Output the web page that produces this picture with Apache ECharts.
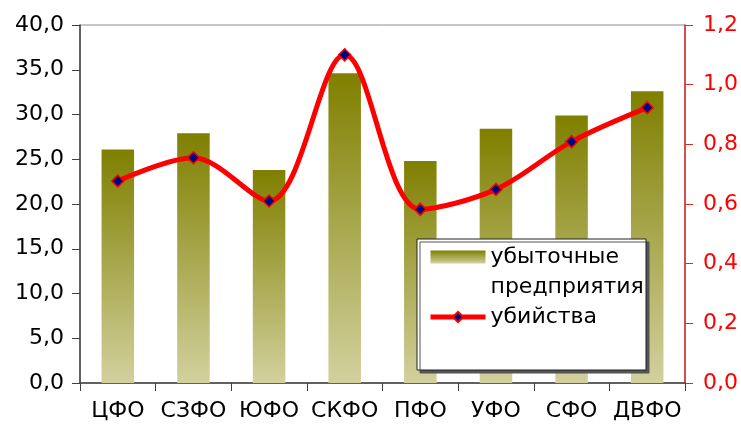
<!DOCTYPE html>
<html>
<head>
<meta charset="utf-8">
<script src="https://cdn.jsdelivr.net/npm/echarts@6/dist/echarts.min.js"></script>
<style>
  html, body { margin: 0; padding: 0; background: #fff; }
  #chart { width: 741px; height: 428px; }
</style>
</head>
<body>
<div id="chart"></div>
<script>
// федеральные округа
var categories = ['ЦФО', 'СЗФО', 'ЮФО', 'СКФО', 'ПФО', 'УФО', 'СФО', 'ДВФО'];
// левая ось
var lossValues = [26.1, 27.9, 23.8, 34.6, 24.8, 28.4, 29.9, 32.6];
// правая ось
var murderValues = [0.677, 0.755, 0.61, 1.10, 0.582, 0.649, 0.809, 0.923];

var barName = 'убыточные предприятия';
var lineName = 'убийства';
var font = 'DejaVu Sans';

function comma(v) {
  return v.toFixed(1).replace('.', ',');
}

var myChart = echarts.init(document.getElementById('chart'));

var option = {
  animation: false,
  backgroundColor: '#fff',
  textStyle: { fontFamily: font },
  grid: {
    left: 80,
    right: 55,
    top: 25,
    bottom: 45,
    show: true,
    borderColor: '#8c8c8c',
    borderWidth: 1,
    backgroundColor: 'transparent'
  },
  graphic: [
    {
      type: 'rect',
      z: 5,
      shape: { x: 417, y: 239, width: 229, height: 131 },
      style: {
        fill: '#fff',
        stroke: '#222',
        lineWidth: 1,
        shadowColor: '#555',
        shadowOffsetX: 3,
        shadowOffsetY: 3,
        shadowBlur: 0
      }
    }
  ],
  legend: {
    z: 10,
    orient: 'vertical',
    left: 428,
    top: 212,
    padding: 0,
    itemGap: 0,
    itemWidth: 55,
    itemHeight: 13,
    textStyle: {
      fontFamily: font,
      fontSize: 22,
      color: '#000',
      lineHeight: 30
    },
    formatter: function (name) {
      // пустая первая строка, чтобы значок стоял напротив первой строки
      return name === barName ? '\nубыточные\nпредприятия' : name;
    },
    data: [
      { name: barName, icon: 'rect' },
      { name: lineName, lineStyle: { width: 5, color: '#ff0000' } }
    ]
  },
  xAxis: [
    {
      type: 'category',
      data: categories,
      boundaryGap: true,
      axisLine: { lineStyle: { color: '#404040', width: 1.5 } },
      axisTick: { show: true, alignWithLabel: false, length: 8, lineStyle: { color: '#404040' } },
      axisLabel: { color: '#000', fontSize: 22, fontFamily: font, margin: 17, interval: 0 },
      splitLine: { show: false }
    }
  ],
  yAxis: [
    {
      type: 'value',
      min: 0,
      max: 40,
      interval: 5,
      position: 'left',
      axisLine: { show: true, lineStyle: { color: '#404040', width: 1.5 } },
      axisTick: { show: true, length: 8, lineStyle: { color: '#404040' } },
      axisLabel: {
        color: '#000',
        fontSize: 22,
        fontFamily: font,
        margin: 16,
        formatter: comma
      },
      splitLine: { show: false }
    },
    {
      type: 'value',
      min: 0,
      max: 1.2,
      interval: 0.2,
      position: 'right',
      axisLine: { show: true, lineStyle: { color: '#d42a2a', width: 1.5 } },
      axisTick: { show: true, length: 8, lineStyle: { color: '#d42a2a' } },
      axisLabel: {
        color: '#ff0000',
        fontSize: 22,
        fontFamily: font,
        margin: 18,
        formatter: comma
      },
      splitLine: { show: false }
    }
  ],
  series: [
    {
      name: barName,
      type: 'bar',
      yAxisIndex: 0,
      data: lossValues,
      barWidth: '43%',
      itemStyle: {
        color: new echarts.graphic.LinearGradient(0, 0, 0, 1, [
          { offset: 0, color: '#7f7f00' },
          { offset: 1, color: '#d2d19e' }
        ])
      }
    },
    {
      name: lineName,
      type: 'line',
      yAxisIndex: 1,
      data: murderValues,
      smooth: 0.33,
      z: 3,
      symbol: 'diamond',
      symbolSize: 12,
      lineStyle: { color: '#ff0000', width: 5 },
      itemStyle: { color: '#000080', borderColor: '#ff0000', borderWidth: 1.5 }
    }
  ]
};

myChart.setOption(option);
</script>
</body>
</html>
